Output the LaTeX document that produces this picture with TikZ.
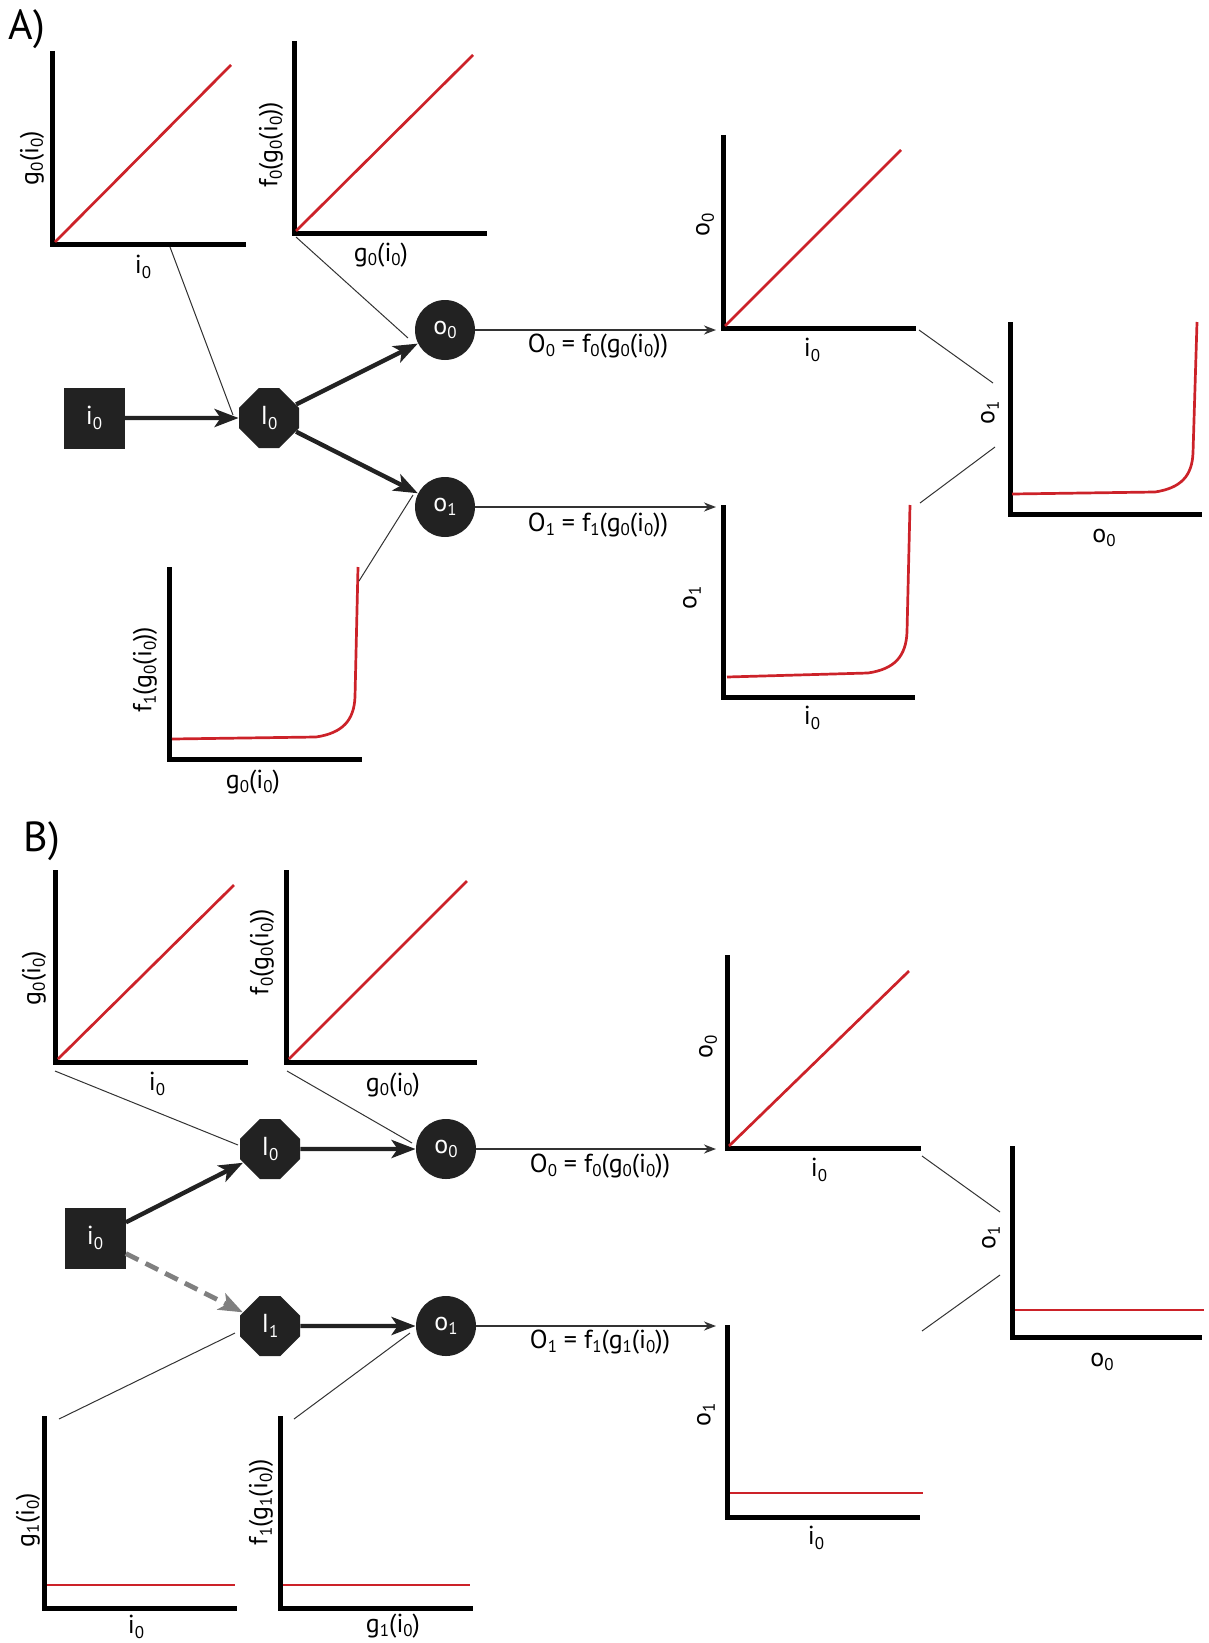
\documentclass[tikz,border=0pt]{standalone}
\usepackage{fontspec}
\setmainfont{PT Sans}
\usetikzlibrary{shapes.geometric,shapes.misc,arrows.meta}
\definecolor{ink}{HTML}{222222}
\definecolor{curvered}{HTML}{CC2229}
\definecolor{linkgray}{HTML}{333333}
\definecolor{dashgray}{HTML}{7F7F7F}
\newcommand\lo[1]{\raisebox{-2.2pt}{\fontsize{8.5}{9}\selectfont #1}}
\tikzset{
  axis/.style={line width=2.5pt, black, line join=miter},
  curve/.style={line width=1.35pt, curvered},
  link/.style={line width=0.5pt, linkgray},
  lbl/.style={font=\fontsize{13}{15}\selectfont, inner sep=0pt},
  ylbl/.style={lbl, rotate=90},
  panel/.style={font=\fontsize{21}{24}\selectfont, inner sep=0pt},
  inbox/.style={rectangle, fill=ink, minimum size=30.5pt, inner sep=0pt, text=white, font=\fontsize{13}{15}\selectfont},
  hidbox/.style={chamfered rectangle, chamfered rectangle xsep=6.5pt, chamfered rectangle ysep=6.5pt, fill=ink, minimum width=30pt, minimum height=30pt, inner sep=0pt, text=white, font=\fontsize{13}{15}\selectfont},
  outbox/.style={circle, fill=ink, minimum size=30pt, inner sep=0pt, text=white, font=\fontsize{13}{15}\selectfont},
  flow/.style={line width=2.2pt, ink, -{Stealth[length=12pt, width=9pt, inset=3pt]}},
  dflow/.style={line width=2.4pt, dashgray, dash pattern=on 7pt off 4pt, -{Stealth[length=12pt, width=9pt, inset=3pt]}},
  feed/.style={line width=1.2pt, linkgray, -{Stealth[length=6pt, width=4.5pt]}},
}
\begin{document}
\begin{tikzpicture}[x=0.5pt, y=-0.5pt]
\useasboundingbox (0,0) rectangle (1209,1643);

% ================= Panel A =================
\node[panel] (labA) at (27,29) {A)};

% plot: g0(i0) against i0
\draw[axis] (52,51) -- (52,244) -- (246,244);
\draw[curve] (55,242) -- (231,65);
\node[ylbl] (a1y) at (32,158) {g\lo{0}(i\lo{0})};
\node[lbl] (a1x) at (143,267) {i\lo{0}};

% plot: f0(g0(i0)) against g0(i0)
\draw[axis] (294,41) -- (294,233) -- (487,233);
\draw[curve] (296,231) -- (473,55);
\node[ylbl] (a2y) at (271,145) {f\lo{0}(g\lo{0}(i\lo{0}))};
\node[lbl] (a2x) at (381,255) {g\lo{0}(i\lo{0})};

% network
\node[inbox]  (iA)  at (94,418)  {i\lo{0}};
\node[hidbox] (IA)  at (269,418) {I\lo{0}};
\node[outbox] (oA0) at (445,330) {o\lo{0}};
\node[outbox] (oA1) at (445,507) {o\lo{1}};
\draw[flow] (iA) -- (IA);
\draw[flow] (IA) -- (oA0);
\draw[flow] (IA) -- (oA1);

\coordinate (pA0) at (716,330);
\coordinate (pA1) at (716,507);
\draw[feed] (oA0.east) -- (pA0);
\draw[feed] (oA1.east) -- (pA1);
\node[lbl] (eqA0) at (598,346) {O\lo{0} = f\lo{0}(g\lo{0}(i\lo{0}))};
\node[lbl] (eqA1) at (598,525) {O\lo{1} = f\lo{1}(g\lo{0}(i\lo{0}))};

% plot: o0 against i0
\draw[axis] (723,135) -- (723,328) -- (916,328);
\draw[curve] (725,326) -- (901,150);
\node[ylbl] (a3y) at (705,225) {o\lo{0}};
\node[lbl] (a3x) at (812,350) {i\lo{0}};

% plot: o1 against i0
\draw[axis] (723,505) -- (723,697) -- (915,697);
\draw[curve] (727,677) -- (868,673) .. controls (895,669) and (906,656) .. (907,632) -- (910,505);
\node[ylbl] (a4y) at (692,598) {o\lo{1}};
\node[lbl] (a4x) at (812,718) {i\lo{0}};

% plot: f1(g0(i0)) against g0(i0)
\draw[axis] (169,567) -- (169,759) -- (362,759);
\draw[curve] (172,739) -- (316,737) .. controls (343,733) and (354,720) .. (355,697) -- (358,567);
\node[ylbl] (a5y) at (145,670) {f\lo{1}(g\lo{0}(i\lo{0}))};
\node[lbl] (a5x) at (253,782) {g\lo{0}(i\lo{0})};

% plot: o1 against o0
\draw[axis] (1010,322) -- (1010,514) -- (1202,514);
\draw[curve] (1012,494) -- (1155,492) .. controls (1181,488) and (1192,476) .. (1193,453) -- (1197,322);
\node[ylbl] (a6y) at (990,413) {o\lo{1}};
\node[lbl] (a6x) at (1104,538) {o\lo{0}};

% call-out lines
\coordinate (kA1s) at (170,247);  \coordinate (kA1e) at (233,415);
\coordinate (kA2s) at (296,237);  \coordinate (kA2e) at (408,338);
\coordinate (kA3s) at (413,495);  \coordinate (kA3e) at (359,581);
\coordinate (kA4s) at (919,330);  \coordinate (kA4e) at (993,383);
\coordinate (kA5s) at (920,503);  \coordinate (kA5e) at (995,447);
\draw[link] (kA1s) -- (kA1e);
\draw[link] (kA2s) -- (kA2e);
\draw[link] (kA3s) -- (kA3e);
\draw[link] (kA4s) -- (kA4e);
\draw[link] (kA5s) -- (kA5e);

% ================= Panel B =================
\node[panel] (labB) at (42,841) {B)};

% plot: g0(i0) against i0
\draw[axis] (55,870) -- (55,1062) -- (248,1062);
\draw[curve] (58,1059) -- (234,885);
\node[ylbl] (b1y) at (34,978) {g\lo{0}(i\lo{0})};
\node[lbl] (b1x) at (157,1084) {i\lo{0}};

% plot: f0(g0(i0)) against g0(i0)
\draw[axis] (286,870) -- (286,1062) -- (477,1062);
\draw[curve] (289,1059) -- (467,881);
\node[ylbl] (b2y) at (262,952) {f\lo{0}(g\lo{0}(i\lo{0}))};
\node[lbl] (b2x) at (393,1085) {g\lo{0}(i\lo{0})};

% network
\node[inbox]  (iB)  at (95,1238)  {i\lo{0}};
\node[hidbox] (IB0) at (270,1149) {I\lo{0}};
\node[hidbox] (IB1) at (270,1326) {I\lo{1}};
\node[outbox] (oB0) at (446,1149) {o\lo{0}};
\node[outbox] (oB1) at (446,1326) {o\lo{1}};
\draw[flow] (iB) -- (IB0);
\draw[dflow] (iB) -- (IB1);
\draw[flow] (IB0) -- (oB0);
\draw[flow] (IB1) -- (oB1);

\coordinate (pB0) at (716,1149);
\coordinate (pB1) at (716,1326);
\draw[feed] (oB0.east) -- (pB0);
\draw[feed] (oB1.east) -- (pB1);
\node[lbl] (eqB0) at (600,1166) {O\lo{0} = f\lo{0}(g\lo{0}(i\lo{0}))};
\node[lbl] (eqB1) at (600,1342) {O\lo{1} = f\lo{1}(g\lo{1}(i\lo{0}))};

% plot: o0 against i0
\draw[axis] (727,955) -- (727,1148) -- (921,1148);
\draw[curve] (729,1146) -- (909,971);
\node[ylbl] (b5y) at (708,1047) {o\lo{0}};
\node[lbl] (b5x) at (819,1170) {i\lo{0}};

% plot: o1 against i0
\draw[axis] (727,1325) -- (727,1517) -- (920,1517);
\draw[curve] (730,1493) -- (923,1493);
\node[ylbl] (b6y) at (706,1415) {o\lo{1}};
\node[lbl] (b6x) at (816,1538) {i\lo{0}};

% plot: o1 against o0
\draw[axis] (1012,1146) -- (1012,1337) -- (1202,1337);
\draw[curve] (1015,1310) -- (1204,1310);
\node[ylbl] (b7y) at (991,1238) {o\lo{1}};
\node[lbl] (b7x) at (1102,1362) {o\lo{0}};

% plot: g1(i0) against i0
\draw[axis] (44,1416) -- (44,1608) -- (237,1608);
\draw[curve] (47,1585) -- (235,1585);
\node[ylbl] (b3y) at (28,1520) {g\lo{1}(i\lo{0})};
\node[lbl] (b3x) at (136,1627) {i\lo{0}};

% plot: f1(g1(i0)) against g1(i0)
\draw[axis] (280,1416) -- (280,1608) -- (473,1608);
\draw[curve] (283,1585) -- (470,1585);
\node[ylbl] (b4y) at (261,1502) {f\lo{1}(g\lo{1}(i\lo{0}))};
\node[lbl] (b4x) at (393,1626) {g\lo{1}(i\lo{0})};

% call-out lines
\coordinate (kB1s) at (55,1071);   \coordinate (kB1e) at (238,1145);
\coordinate (kB2s) at (287,1071);  \coordinate (kB2e) at (412,1143);
\coordinate (kB3s) at (235,1333);  \coordinate (kB3e) at (59,1419);
\coordinate (kB4s) at (410,1333);  \coordinate (kB4e) at (294,1419);
\coordinate (kB5s) at (922,1156);  \coordinate (kB5e) at (1000,1212);
\coordinate (kB6s) at (922,1331);  \coordinate (kB6e) at (1000,1275);
\draw[link] (kB1s) -- (kB1e);
\draw[link] (kB2s) -- (kB2e);
\draw[link] (kB3s) -- (kB3e);
\draw[link] (kB4s) -- (kB4e);
\draw[link] (kB5s) -- (kB5e);
\draw[link] (kB6s) -- (kB6e);
\end{tikzpicture}
\end{document}
